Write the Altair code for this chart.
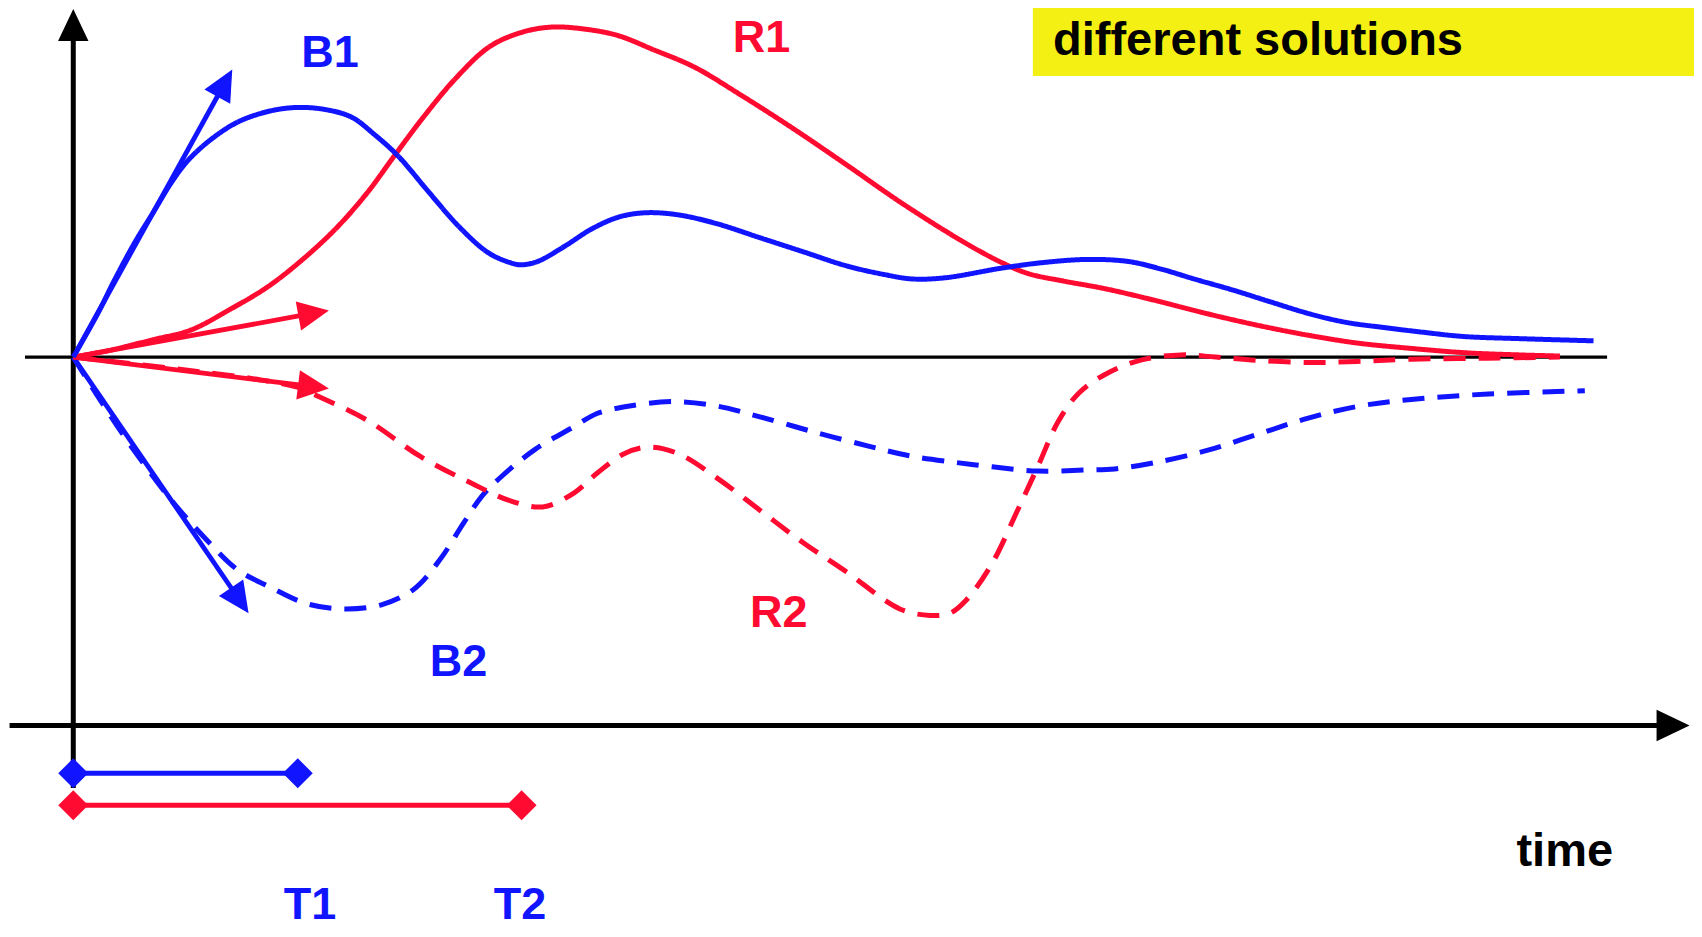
import altair as alt
import pandas as pd
import numpy as np

BLUE = "#1014ff"
RED = "#ff0a30"
BLACK = "#000000"
YELLOW = "#f5f014"

# ---- curves (time t, response v) ----
b1_t = [0, 2.25, 3.85, 5.75, 7.35, 9.05, 10.55, 12.75, 15.25, 18.25, 20.75, 23.25, 25.65, 27.75, 29.95,
        32.75, 35.55, 38.25, 40.25, 41.25, 42.75, 45.25, 47.75, 50.25, 52.75, 55.75, 59.25, 63.25, 67.25,
        71.25, 74.75, 77.25, 80.25, 85.55, 89.25, 93.55, 97.25, 100.25, 103.25, 106.75, 110.25, 113.85,
        117.25, 120.95, 124.25, 128.05, 133.25, 140.05]
b1_v = [0, 4.0, 7.2, 10.7, 13.3, 16.1, 18.1, 20.1, 21.7, 22.7, 23.0, 22.8, 22.1, 20.5, 18.5,
        15.2, 12.0, 9.6, 8.7, 8.5, 8.8, 10.2, 11.8, 12.9, 13.3, 13.1, 12.3, 11.0, 9.7,
        8.4, 7.6, 7.2, 7.3, 8.2, 8.7, 9.0, 8.8, 8.1, 7.2, 6.2, 5.1, 4.0,
        3.2, 2.7, 2.3, 1.9, 1.7, 1.5]

r1_t = [0, 3.25, 7.35, 10.85, 14.45, 17.95, 21.25, 24.25, 27.05, 29.55, 32.25, 35.25, 38.35, 41.25,
        44.05, 47.25, 50.25, 53.25, 57.25, 61.25, 66.25, 71.25, 76.15, 80.85, 83.25, 85.55, 87.95,
        91.25, 95.05, 99.75, 104.45, 109.25, 113.85, 118.25, 123.25, 128.25, 133.25, 136.95]
r1_v = [0, 0.6, 1.6, 2.5, 4.4, 6.5, 9.1, 11.9, 15.1, 18.5, 22.1, 25.7, 28.6, 29.9,
        30.4, 30.2, 29.6, 28.4, 26.7, 24.3, 21.1, 17.7, 14.3, 11.3, 9.9, 8.7, 7.7,
        7.0, 6.3, 5.2, 4.0, 2.9, 2.0, 1.3, 0.8, 0.4, 0.2, 0.1]

b2_t = [0, 2.25, 5.25, 9.05, 12.25, 15.15, 17.95, 21.45, 24.95, 28.45, 31.35, 33.75, 35.95, 37.65,
        39.45, 42.55, 46.15, 48.25, 51.25, 55.25, 59.25, 63.25, 68.25, 73.25, 77.05, 81.25, 84.65,
        88.85, 93.25, 95.95, 99.75, 104.45, 109.15, 113.85, 118.55, 123.25, 130.35, 139.25]
b2_v = [0, -3.6, -8.1, -13.2, -16.8, -19.6, -21.1, -22.7, -23.2, -22.8, -21.4, -18.7, -15.3, -12.8,
        -11.0, -8.5, -6.4, -5.2, -4.5, -4.1, -4.5, -5.5, -6.9, -8.2, -9.1, -9.7, -10.1,
        -10.5, -10.4, -10.3, -9.7, -8.6, -7.1, -5.6, -4.5, -3.9, -3.4, -3.1]

r2_t = [0, 5.25, 11.25, 17.25, 20.75, 22.55, 27.05, 32.05, 36.65, 40.15, 43.25, 46.15, 48.25, 50.75,
        52.95, 55.75, 59.25, 63.25, 67.25, 71.25, 76.15, 78.95, 80.75, 82.25, 84.65, 86.95, 88.85,
        90.75, 92.65, 95.05, 98.25, 102.05, 105.25, 109.15, 113.85, 118.25, 123.25, 130.25, 136.95]
r2_v = [0, -0.6, -1.3, -2.1, -2.8, -3.6, -5.8, -9.2, -11.6, -13.2, -13.8, -12.5, -10.7, -8.9,
        -8.3, -8.9, -11.1, -14.1, -17.1, -19.8, -23.2, -23.8, -23.6, -22.4, -19.0, -14.2, -10.1,
        -5.9, -3.3, -1.6, -0.3, 0.2, 0.0, -0.3, -0.5, -0.4, -0.2, -0.1, 0.0]

# ---- initial-slope arrows and axis arrows ----
arrow_names = ["B1 slope", "R1 slope", "R2 slope", "B2 slope", "value axis", "time axis"]
arrow_t0 = [0, 0, 0, 0, 0, -5.87]
arrow_v0 = [0, 0, 0, 0, -39.7, -33.94]
arrow_t1 = [14.65, 23.55, 23.55, 16.15, 0, 148.9]
arrow_v1 = [26.5, 4.3, -2.9, -23.6, 32.07, -33.94]
arrow_col = [BLUE, RED, RED, BLUE, BLACK, BLACK]
arrow_w = [4.8, 4.8, 4.8, 4.8, 5, 5]
arrow_head = [31, 31, 31, 31, 32, 33]

# ---- interval bars T1, T2 ----
bar_names = ["T1", "T2"]
bar_start = [0, 0]
bar_end = [20.68, 41.3]
bar_level = [-38.34, -41.29]
bar_col = [BLUE, RED]

# ---- labels ----
lab_text = ["B1", "R1", "B2", "R2", "T1", "T2"]
lab_t = [23.65, 63.4, 35.5, 65.0, 21.8, 41.15]
lab_v = [26.7, 28.1, -29.4, -24.9, -51.75, -51.75]
lab_col = [BLUE, RED, BLUE, RED, BLUE, BLUE]

PX = 10.855  # pixels per unit
T_MIN = -6.013
V_TOP = 32.16
W, H = 1686, 921
xs = alt.Scale(domain=[T_MIN, T_MIN + W / PX], nice=False, zero=False)
ys = alt.Scale(domain=[V_TOP - H / PX, V_TOP], nice=False, zero=False)


def X(f):
    return alt.X(f, type="quantitative", scale=xs, axis=None)


def Y(f):
    return alt.Y(f, type="quantitative", scale=ys, axis=None)


def curve(t, v, color, dash):
    df = pd.DataFrame({"t": t, "v": v})
    m = alt.Chart(df).mark_line(color=color, strokeWidth=5, interpolate="catmull-rom",
                                strokeDash=dash if dash else [1, 0])
    return m.encode(x=X("t"), y=Y("v"))


# arrows
adf = pd.DataFrame({"name": arrow_names, "t0": arrow_t0, "v0": arrow_v0, "t1": arrow_t1,
                    "v1": arrow_v1, "col": arrow_col, "w": arrow_w, "L": arrow_head})
dt = adf.t1 - adf.t0
dv = adf.v1 - adf.v0
ln = np.sqrt(dt ** 2 + dv ** 2)
half = adf.L / 2 / PX
adf["tc"] = adf.t1 - dt / ln * half
adf["vc"] = adf.v1 - dv / ln * half
adf["ang"] = (np.degrees(np.arctan2(dt, dv)) + 360) % 360
adf["size"] = adf.L ** 2

shafts = alt.Chart(adf).mark_rule().encode(
    x=X("t0"), y=Y("v0"), x2="tc", y2="vc",
    color=alt.Color("col:N", scale=None),
    strokeWidth=alt.StrokeWidth("w:Q", scale=None))
heads = alt.Chart(adf).mark_point(shape="M0,-1L0.95,1L-0.95,1Z", filled=True, opacity=1,
                                  strokeWidth=0).encode(
    x=X("tc"), y=Y("vc"),
    color=alt.Color("col:N", scale=None),
    size=alt.Size("size:Q", scale=None),
    angle=alt.Angle("ang:Q", scale=None))

zero = pd.DataFrame({"t0": [-4.45], "t1": [141.3], "v": [0.0]})
zero_line = alt.Chart(zero).mark_rule(color=BLACK, strokeWidth=3.4).encode(
    x=X("t0"), x2="t1", y=Y("v"))

bdf = pd.DataFrame({"name": bar_names, "a": bar_start, "b": bar_end, "lev": bar_level, "col": bar_col})
bars = alt.Chart(bdf).mark_rule(strokeWidth=5).encode(
    x=X("a"), x2="b", y=Y("lev"), color=alt.Color("col:N", scale=None))
ddf = pd.DataFrame({"t": bar_start + bar_end, "lev": bar_level + bar_level, "col": bar_col + bar_col})
diamonds = alt.Chart(ddf).mark_point(shape="diamond", filled=True, size=900, opacity=1,
                                     strokeWidth=0).encode(
    x=X("t"), y=Y("lev"), color=alt.Color("col:N", scale=None))

ldf = pd.DataFrame({"text": lab_text, "t": lab_t, "v": lab_v, "col": lab_col})
labels = alt.Chart(ldf).mark_text(font="Liberation Sans", fontWeight="bold", fontSize=45,
                                  align="center", baseline="alphabetic").encode(
    x=X("t"), y=Y("v"), text="text:N", color=alt.Color("col:N", scale=None))

time_df = pd.DataFrame({"text": ["time"], "t": [137.4], "v": [-46.9]})
time_lab = alt.Chart(time_df).mark_text(font="Liberation Sans", fontWeight="bold", fontSize=47,
                                        align="center", baseline="alphabetic", color=BLACK).encode(
    x=X("t"), y=Y("v"), text="text:N")

box_df = pd.DataFrame({"t0": [88.4], "t1": [152.0], "v0": [25.9], "v1": [33.5]})
box = alt.Chart(box_df).mark_rect(color=YELLOW).encode(x=X("t0"), x2="t1", y=Y("v0"), y2="v1")
title_df = pd.DataFrame({"text": ["different solutions"], "t": [90.26], "v": [27.83]})
title = alt.Chart(title_df).mark_text(font="Liberation Sans", fontWeight="bold", fontSize=47,
                                      align="left", baseline="alphabetic", color=BLACK).encode(
    x=X("t"), y=Y("v"), text="text:N")

chart = alt.layer(
    box, zero_line, shafts, heads,
    curve(b2_t, b2_v, BLUE, [22, 13]),
    curve(r2_t, r2_v, RED, [22, 13]),
    curve(r1_t, r1_v, RED, None),
    curve(b1_t, b1_v, BLUE, None),
    bars, diamonds, labels, time_lab, title,
).properties(
    width=W, height=H, autosize=alt.AutoSizeParams(type="none"), padding=0,
    background="white"
).configure_view(stroke=None)

chart.save("out.html", embed_options={"renderer": "svg", "actions": False})
